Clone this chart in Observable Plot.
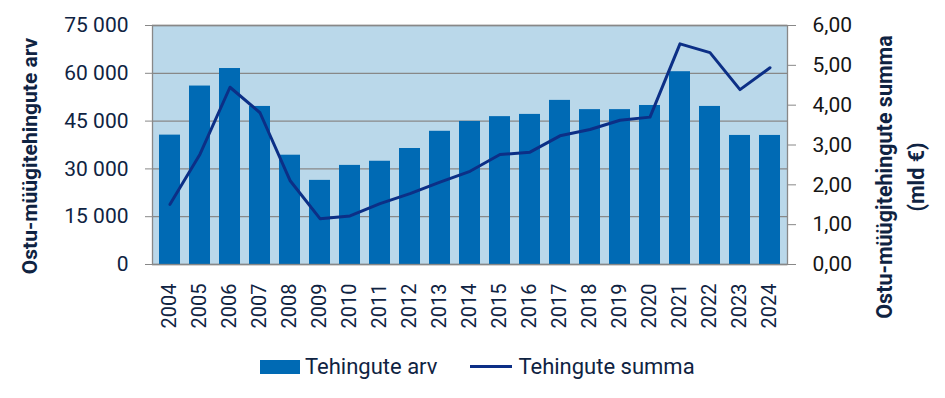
<!DOCTYPE html>
<html>
<head>
<meta charset="utf-8">
<script src="https://cdn.jsdelivr.net/npm/d3@7"></script>
<script src="https://cdn.jsdelivr.net/npm/@observablehq/plot@0.6"></script>
<style>
  html, body { margin: 0; padding: 0; background: #fff; }
  #wrap { width: 945px; font-family: Roboto, sans-serif; }
  #legend { height: 63px; display: flex; align-items: center; padding-left: 260px; box-sizing: border-box; color: #0f2342; font-size: 22px; }
  .sw-bar { width: 40px; height: 14px; background: #006ab4; margin-right: 5px; }
  .sw-line { width: 42px; height: 3px; background: #0c2f86; margin-left: 33px; margin-right: 6px; }
</style>
</head>
<body>
<div id="wrap"><div id="chart"></div>
<div id="legend"><span class="sw-bar"></span><span>Tehingute arv</span><span class="sw-line"></span><span>Tehingute summa</span></div>
</div>
<script>
const years = ["2004","2005","2006","2007","2008","2009","2010","2011","2012","2013","2014","2015","2016","2017","2018","2019","2020","2021","2022","2023","2024"];
const counts = [40600, 56000, 61500, 49600, 34300, 26400, 31100, 32400, 36400, 41800, 44900, 46400, 47100, 51500, 48600, 48600, 49900, 60500, 49600, 40500, 40500];
const sums = [1.51, 2.77, 4.45, 3.81, 2.11, 1.15, 1.22, 1.53, 1.78, 2.07, 2.34, 2.76, 2.82, 3.23, 3.39, 3.62, 3.70, 5.54, 5.32, 4.39, 4.94];
const leftTicks = [0, 15000, 30000, 45000, 60000, 75000];
const rightTicks = [0, 1, 2, 3, 4, 5, 6];
const leftTitle = "Ostu-müügitehingute arv";
const rightTitle = "Ostu-müügitehingute summa\n(mld €)";

const ratio = 75000 / 6;
const data = years.map((y, i) => ({year: y, count: counts[i], sum: sums[i]}));

const chart = Plot.plot({
  width: 945,
  height: 335,
  marginTop: 25,
  marginBottom: 71,
  marginLeft: 152,
  marginRight: 158,
  style: {fontFamily: "Roboto, sans-serif", fontSize: "21px", color: "#0f2342", background: "transparent", overflow: "visible"},
  x: {type: "band", domain: years, paddingInner: 0.3, paddingOuter: 0.15, label: null},
  y: {domain: [0, 75000], label: null},
  marks: [
    Plot.frame({fill: "#bad8ea", stroke: null}),
    Plot.gridY(leftTicks, {stroke: "#888", strokeOpacity: 1, strokeWidth: 1.3}),
    Plot.barY(data, {x: "year", y: "count", fill: "#006ab4"}),
    Plot.lineY(data, {x: "year", y: d => d.sum * ratio, stroke: "#0c2f86", strokeWidth: 3, strokeLinejoin: "round"}),
    Plot.frame({stroke: "#888", strokeWidth: 1.3}),
    Plot.axisY(leftTicks, {
      anchor: "left", tickSize: 7, tickPadding: 17, stroke: "#888", strokeOpacity: 1, fill: "#0f2342",
      tickFormat: d => d3.format(",")(d).replace(/,/g, " "), label: null, fontSize: 21
    }),
    Plot.axisY(rightTicks.map(v => v * ratio), {
      anchor: "right", tickSize: 8, tickPadding: 17, stroke: "#888", strokeOpacity: 1, fill: "#151515",
      tickFormat: d => (d / ratio).toFixed(2).replace(".", ","), label: null, fontSize: 21
    }),
    Plot.axisX({tickRotate: -90, tickSize: 0, tickPadding: 19, fill: "#0f2342", label: null, fontSize: 20}),
    Plot.text([leftTitle], {frameAnchor: "left", textAnchor: "middle", rotate: -90, dx: -122, dy: 11, fontWeight: "bold", fontSize: 21, fill: "#0f2342"}),
    Plot.text([rightTitle], {frameAnchor: "right", textAnchor: "middle", rotate: -90, dx: 110, dy: 32, lineHeight: 1.53, fontWeight: "bold", fontSize: 21.5, fill: "#0f2342"})
  ]
});
document.getElementById("chart").appendChild(chart);
</script>
</body>
</html>
